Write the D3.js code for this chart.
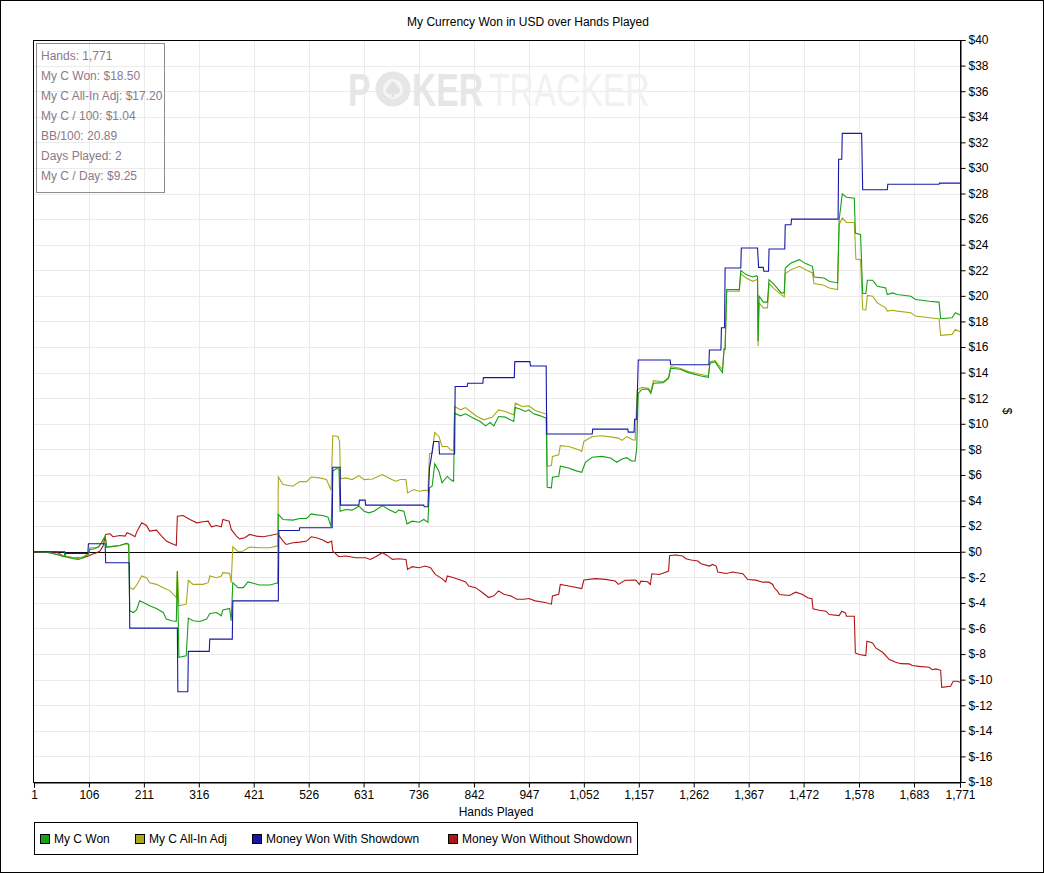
<!DOCTYPE html>
<html><head><meta charset="utf-8">
<script src="https://cdn.jsdelivr.net/npm/d3@7"></script>
<style>
html,body{margin:0;padding:0;background:#fff;}
text{font-family:"Liberation Sans",Arial,sans-serif;}
</style></head>
<body>
<svg id="chart" width="1044" height="873"></svg>
<script>
const title = "My Currency Won in USD over Hands Played";
const xTicks = [1,106,211,316,421,526,631,736,842,947,1052,1157,1262,1367,1472,1578,1683,1771];
const yTicks = d3.range(-18, 41, 2);
const statsLines = ["Hands: 1,771","My C Won: $18.50","My C All-In Adj: $17.20","My C / 100: $1.04","BB/100: 20.89","Days Played: 2","My C / Day: $9.25"];
const seriesNames = ["My C Won","My C All-In Adj","Money Won With Showdown","Money Won Without Showdown"];
const seriesColors = ["#15a015","#a8a81c","#1818a8","#b01515"];

const wonData = [[1,0],[25,-0.03],[44,-0.21],[57,-0.39],[59,-0.39],[60,-0.03],[61,-0.39],[76,-0.55],[86,-0.6],[95,-0.47],[105,-0.21],[108,0.18],[117,0.23],[124,0.36],[130,0.7],[137,1.17],[140,0.36],[152,0.42],[165,0.49],[178,0.65],[182,0.57],[184,-4.62],[191,-4.75],[197,-4.55],[203,-3.84],[213,-4.03],[222,-4.23],[235,-4.44],[248,-4.75],[254,-5.27],[264,-5.4],[273,-5.45],[275,-1.51],[278,-8.26],[283,-8.21],[292,-8.13],[296,-5.19],[305,-5.4],[318,-5.45],[331,-5.27],[337,-4.83],[350,-4.75],[359,-5.01],[362,-4.55],[375,-4.44],[378,-5.4],[381,-2.42],[391,-2.81],[401,-2.81],[410,-2.36],[420,-2.47],[432,-2.6],[452,-2.6],[464,-2.47],[467,-2.47],[468,2.91],[477,2.52],[496,2.47],[509,2.6],[522,2.6],[531,2.96],[541,2.88],[553,2.83],[563,2.7],[569,1.95],[572,6.3],[579,6.5],[584,6.45],[586,3.17],[597,3.3],[609,3.25],[622,3.56],[632,3.17],[641,3.04],[651,3.17],[667,3.61],[679,3.3],[692,3.04],[698,3.25],[708,3.17],[714,2.18],[724,2.39],[737,2.31],[746,2.52],[754,2.31],[757,4.99],[762,5.12],[767,6.88],[775,6.29],[781,5.38],[791,5.9],[797,5.64],[803,5.51],[805,10.83],[816,10.62],[826,10.78],[835,10.57],[845,10.36],[854,10.18],[864,9.84],[873,10.1],[880,9.84],[889,10.57],[902,10.52],[918,10.18],[921,11.27],[931,11.14],[940,10.96],[947,11.09],[956,10.78],[969,10.62],[980,10.44],[982,5.04],[990,4.99],[992,5.82],[1004,5.9],[1007,6.68],[1023,6.55],[1036,6.34],[1048,6.21],[1055,6.99],[1068,7.38],[1087,7.45],[1103,7.32],[1115,6.99],[1125,7.25],[1134,7.35],[1143,7.09],[1150,7.09],[1153,8.08],[1156,12.38],[1163,12.7],[1175,12.7],[1180,12.38],[1185,13.17],[1204,13.22],[1214,13.56],[1218,14.34],[1236,14.26],[1252,14.0],[1274,13.76],[1290,13.63],[1293,14.73],[1303,14.86],[1309,14.47],[1317,14.0],[1320,15.82],[1322,15.82],[1325,20.49],[1349,20.49],[1352,21.97],[1362,21.66],[1375,21.48],[1382,21.58],[1384,21.5],[1385,16.47],[1387,19.97],[1395,19.51],[1403,19.51],[1406,21.27],[1416,20.88],[1429,20.23],[1435,20.23],[1437,22.18],[1448,22.57],[1464,22.83],[1476,22.52],[1489,22.31],[1492,21.48],[1511,21.4],[1521,21.14],[1537,21.01],[1540,25.95],[1546,27.97],[1554,27.71],[1569,27.64],[1571,24.91],[1581,24.78],[1585,20.18],[1591,20.18],[1594,21.22],[1604,21.22],[1613,20.75],[1629,20.62],[1632,20.1],[1642,20.23],[1651,20.1],[1677,19.97],[1686,19.71],[1712,19.58],[1731,19.51],[1734,18.21],[1756,18.29],[1762,18.68],[1771,18.5]];

const adjData = [[1,0],[25,-0.03],[44,-0.18],[57,-0.34],[59,-0.34],[60,-0.03],[61,-0.34],[76,-0.47],[86,-0.5],[95,-0.4],[105,-0.1],[108,0.31],[117,0.31],[124,0.36],[130,0.7],[137,1.27],[140,0.36],[152,0.42],[165,0.49],[178,0.65],[182,0.57],[184,-2.81],[191,-2.94],[197,-2.62],[207,-1.9],[216,-2.03],[222,-2.42],[235,-2.55],[248,-2.81],[261,-3.06],[273,-3.58],[275,-1.51],[278,-4.23],[292,-4.1],[296,-2.23],[305,-2.55],[324,-2.55],[334,-2.42],[337,-1.9],[350,-2.03],[359,-1.9],[362,-1.64],[375,-1.69],[378,-2.42],[381,0.39],[391,0],[401,0.05],[413,0.36],[432,0.31],[452,0.31],[464,0.44],[467,0.44],[468,5.84],[477,5.25],[496,5.12],[509,5.48],[522,5.48],[531,5.84],[547,5.77],[560,5.64],[569,4.81],[572,9.06],[582,9.01],[585,8.62],[587,5.7],[597,5.77],[609,5.64],[622,5.95],[632,5.64],[648,5.69],[667,6.03],[679,5.77],[692,5.51],[702,5.64],[712,5.64],[715,4.6],[727,4.86],[737,4.73],[749,4.81],[754,4.73],[757,7.66],[762,7.71],[767,9.32],[775,9.01],[781,8.23],[791,8.23],[797,7.97],[803,7.9],[805,11.35],[816,11.09],[826,11.27],[835,10.96],[848,10.57],[861,10.31],[877,10.52],[889,11.09],[902,10.96],[918,10.7],[921,11.61],[934,11.35],[947,11.4],[959,11.04],[978,10.78],[981,10.78],[982,6.68],[990,6.73],[992,7.45],[1004,7.58],[1007,8.29],[1023,8.23],[1042,7.97],[1048,7.84],[1052,8.62],[1068,9.01],[1087,9.06],[1106,8.96],[1118,8.88],[1125,8.7],[1134,9.0],[1145,8.75],[1150,8.73],[1154,12.64],[1163,12.85],[1175,12.77],[1180,12.51],[1185,13.37],[1204,13.29],[1214,13.63],[1218,14.47],[1236,14.34],[1252,14.08],[1274,13.87],[1290,13.74],[1293,14.86],[1303,14.94],[1309,14.6],[1317,14.26],[1320,15.87],[1322,15.87],[1325,20.36],[1349,20.36],[1352,21.74],[1362,21.4],[1375,21.14],[1382,21.27],[1384,21.2],[1385,16.08],[1387,19.45],[1395,19.06],[1403,19.06],[1406,20.96],[1416,20.55],[1429,20.1],[1435,19.92],[1437,21.74],[1448,22.05],[1464,22.31],[1476,22.05],[1489,21.79],[1492,20.96],[1511,20.83],[1521,20.62],[1537,20.49],[1540,25.56],[1546,26.08],[1554,25.74],[1569,25.74],[1572,22.88],[1581,22.83],[1585,18.94],[1591,18.88],[1594,20.03],[1604,19.97],[1613,19.45],[1629,19.06],[1632,18.81],[1642,18.88],[1651,18.81],[1677,18.68],[1686,18.42],[1712,18.29],[1731,18.21],[1734,16.91],[1756,16.99],[1762,17.38],[1771,17.2]];

const sdData = [[1,0],[60,0],[61,-0.13],[104,-0.13],[105,0.62],[137,0.62],[138,-0.86],[183,-0.86],[184,-5.97],[275,-5.97],[276,-10.94],[295,-10.94],[296,-7.79],[336,-7.79],[337,-6.83],[380,-6.83],[381,-3.84],[468,-3.84],[469,1.66],[508,1.66],[509,1.87],[571,1.87],[572,6.6],[586,6.6],[587,3.64],[622,3.64],[623,4.03],[634,4.03],[635,3.64],[746,3.64],[747,3.51],[754,3.51],[757,6.6],[759,7.0],[765,8.62],[775,8.62],[776,7.64],[805,7.64],[806,12.91],[829,12.91],[830,13.17],[859,13.17],[860,13.61],[919,13.61],[920,14.86],[949,14.86],[950,14.52],[980,14.52],[981,9.2],[1068,9.2],[1069,9.58],[1136,9.58],[1137,9.35],[1148,9.35],[1149,10.36],[1153,10.36],[1156,14.99],[1217,14.99],[1218,14.62],[1291,14.62],[1292,15.77],[1314,15.77],[1315,17.51],[1321,17.51],[1322,22.18],[1352,22.18],[1353,23.74],[1384,23.74],[1386,22.23],[1395,22.23],[1396,21.92],[1405,21.92],[1406,23.66],[1436,23.66],[1437,25.56],[1448,25.56],[1449,26.0],[1538,26.0],[1539,30.68],[1545,30.68],[1546,32.7],[1583,32.7],[1585,28.29],[1632,28.29],[1633,28.73],[1731,28.73],[1732,28.81],[1771,28.81]];

const nsdData = [[1,0],[44,-0.03],[57,-0.34],[76,-0.47],[95,-0.47],[105,-0.34],[111,-0.21],[121,-0.08],[127,0.05],[133,0.44],[138,1.35],[146,1.4],[152,1.17],[165,1.27],[175,1.22],[179,1.48],[187,1.35],[194,1.17],[198,1.61],[207,2.26],[216,2.05],[222,1.61],[235,1.69],[245,1.22],[254,0.83],[264,0.65],[273,0.49],[275,2.78],[286,2.83],[299,2.52],[312,2.26],[324,2.34],[334,2.39],[340,1.95],[350,2.05],[359,1.95],[362,2.52],[374,2.39],[378,1.74],[388,1.22],[394,1.01],[404,1.09],[413,1.35],[426,1.22],[439,1.17],[452,1.27],[467,1.4],[477,0.83],[483,0.57],[496,0.7],[509,0.75],[522,0.83],[531,1.17],[541,1.09],[553,0.91],[563,0.7],[570,0.83],[572,0.05],[584,-0.39],[597,-0.34],[616,-0.47],[635,-0.47],[644,-0.6],[654,-0.39],[667,-0.08],[676,-0.29],[686,-0.6],[698,-0.55],[712,-0.6],[715,-1.38],[724,-1.17],[737,-1.25],[749,-1.12],[759,-1.25],[768,-1.77],[781,-2.1],[788,-2.36],[791,-1.9],[803,-2.03],[816,-2.21],[826,-2.36],[832,-2.68],[845,-2.81],[858,-3.19],[870,-3.58],[880,-3.45],[889,-3.06],[899,-3.32],[912,-3.45],[924,-3.71],[937,-3.71],[947,-3.66],[959,-3.84],[978,-3.97],[990,-4.1],[992,-3.45],[1004,-3.32],[1007,-2.55],[1023,-2.68],[1048,-2.88],[1052,-2.21],[1074,-2.1],[1093,-2.16],[1112,-2.29],[1118,-2.55],[1131,-2.23],[1150,-2.21],[1152,-2.25],[1158,-2.56],[1161,-2.3],[1174,-2.35],[1179,-2.56],[1182,-1.72],[1196,-1.78],[1206,-1.64],[1214,-1.51],[1216,-0.29],[1228,-0.26],[1241,-0.34],[1247,-0.55],[1257,-0.65],[1270,-0.73],[1276,-0.94],[1292,-1.12],[1298,-0.99],[1305,-1.12],[1308,-1.59],[1324,-1.7],[1336,-1.59],[1356,-1.72],[1365,-2.17],[1381,-2.22],[1394,-2.38],[1406,-2.38],[1413,-2.56],[1416,-2.82],[1422,-3.08],[1426,-3.34],[1445,-3.42],[1457,-3.16],[1470,-3.34],[1480,-3.6],[1488,-3.68],[1490,-4.46],[1502,-4.57],[1515,-4.65],[1521,-4.91],[1540,-4.99],[1545,-4.65],[1552,-4.78],[1554,-5.04],[1569,-5.04],[1571,-7.91],[1578,-8.04],[1591,-8.12],[1593,-7.0],[1604,-7.13],[1610,-7.52],[1623,-7.86],[1636,-8.43],[1648,-8.64],[1658,-8.75],[1674,-8.77],[1680,-8.9],[1693,-8.96],[1712,-9.03],[1718,-9.22],[1725,-9.16],[1734,-9.27],[1736,-10.6],[1753,-10.52],[1758,-10.13],[1766,-10.13],[1771,-10.21]];

const svg = d3.select("#chart");
const W = 1044, H = 873;
const L = 34, R = 960, T = 40, B = 782;

svg.append("rect").attr("x",0.5).attr("y",0.5).attr("width",W-1).attr("height",H-1)
  .attr("fill","#fff").attr("stroke","#000");

const x = d3.scaleLinear().domain([1,1771]).range([L,R]);
const y = d3.scaleLinear().domain([-18,40]).range([B,T]);

// title
svg.append("text").attr("x",528).attr("y",26).attr("text-anchor","middle")
  .attr("font-size",12).attr("fill","#000").text(title);

// grid
const grid = svg.append("g");
grid.selectAll("line.gx").data(xTicks.slice(1,-1)).join("line")
  .attr("x1",d=>Math.round(x(d))+0.5).attr("x2",d=>Math.round(x(d))+0.5)
  .attr("y1",T).attr("y2",B).attr("stroke","#ebebeb");
grid.selectAll("line.gy").data(yTicks.filter(d=>d!==40 && d!==-18 && d!==0)).join("line")
  .attr("x1",L).attr("x2",R)
  .attr("y1",d=>Math.round(y(d))+0.5).attr("y2",d=>Math.round(y(d))+0.5).attr("stroke","#ebebeb");

// watermark (logo) - a single text element, horizontally condensed
const wm = svg.append("g").attr("class","watermark");
const sx = 0.73;
const wmText = wm.append("text").attr("transform",`translate(0,106) scale(${sx},1)`).attr("font-size",46);
wmText.append("tspan").attr("x",348/sx).attr("font-weight","bold").attr("fill","#e6e6e6").text("P");
wmText.append("tspan").attr("x",412/sx).attr("font-weight","bold").attr("fill","#e6e6e6").text("KER");
wmText.append("tspan").attr("x",489/sx).attr("font-weight","normal").attr("fill","#f1f1f1").text("TRACKER");
wm.append("circle").attr("cx",393).attr("cy",89).attr("r",17.5).attr("fill","#e6e6e6");
wm.append("circle").attr("cx",393).attr("cy",89).attr("r",10).attr("fill","#f5f5f5");
wm.append("path").attr("d","M393,81 C397,86 400,88 400,91 C400,94 396,95 394,93 L395,97 L391,97 L392,93 C390,95 386,94 386,91 C386,88 389,86 393,81 Z")
  .attr("fill","#e2e2e2");

// stats box
svg.append("rect").attr("x",36.5).attr("y",43.5).attr("width",128).attr("height",149)
  .attr("fill","none").attr("stroke","#8c8c8c");
svg.append("g").selectAll("text").data(statsLines).join("text")
  .attr("x",41).attr("y",(d,i)=>59.5+i*20).attr("font-size",12).attr("fill","#8a7a88").text(d=>d);

// zero line
svg.append("line").attr("x1",L).attr("x2",R).attr("y1",Math.round(y(0))+0.5).attr("y2",Math.round(y(0))+0.5)
  .attr("stroke","#000");

// lines
const line = d3.line().x(d=>x(d[0])).y(d=>y(d[1]));
const allSeries = [nsdData, adjData, wonData, sdData];
const allColors = [seriesColors[3], seriesColors[1], seriesColors[0], seriesColors[2]];
svg.append("g").selectAll("path").data(allSeries).join("path")
  .attr("d",line).attr("fill","none").attr("stroke",(d,i)=>allColors[i]).attr("stroke-width",1.1);

// plot frame
svg.append("rect").attr("x",L-0.5).attr("y",T+0.5).attr("width",R-L+1).attr("height",B-T)
  .attr("fill","none").attr("stroke","#000");

// axes
const yAxis = d3.axisRight(y).tickValues(yTicks).tickSize(5).tickPadding(3).tickFormat(d=>"$"+d);
const gy = svg.append("g").attr("transform",`translate(${R+0.5},0)`).call(yAxis);
const xAxis = d3.axisBottom(x).tickValues(xTicks).tickSize(5).tickPadding(3).tickFormat(d3.format(","));
const gx = svg.append("g").attr("transform",`translate(0,${B+0.5})`).call(xAxis);
[gy,gx].forEach(g=>{
  g.select(".domain").attr("stroke","#000");
  g.selectAll(".tick line").attr("stroke","#000");
  g.selectAll(".tick text").attr("font-family","'Liberation Sans Narrow','Liberation Sans',Arial,sans-serif")
    .attr("font-size",12).attr("fill","#000");
});

svg.append("text").attr("x",496).attr("y",816).attr("text-anchor","middle").attr("font-size",12)
  .attr("font-family","'Liberation Sans Narrow','Liberation Sans',Arial,sans-serif").text("Hands Played");
svg.append("text").attr("transform","translate(1003,411) rotate(90)").attr("text-anchor","middle")
  .attr("font-size",12).text("$");

// legend
svg.append("rect").attr("x",34.5).attr("y",822.5).attr("width",603).attr("height",32)
  .attr("fill","#fff").attr("stroke","#000");
const legX = [40,135,252,448];
const lg = svg.append("g").selectAll("g").data(seriesNames).join("g")
  .attr("transform",(d,i)=>`translate(${legX[i]},0)`);
lg.append("rect").attr("x",0.5).attr("y",834.5).attr("width",9).attr("height",9)
  .attr("fill",(d,i)=>seriesColors[i]).attr("stroke","#000");
lg.append("text").attr("x",14).attr("y",843).attr("font-size",12)
  .attr("font-family","'Liberation Sans Narrow','Liberation Sans',Arial,sans-serif").text(d=>d);
</script>
</body></html>
